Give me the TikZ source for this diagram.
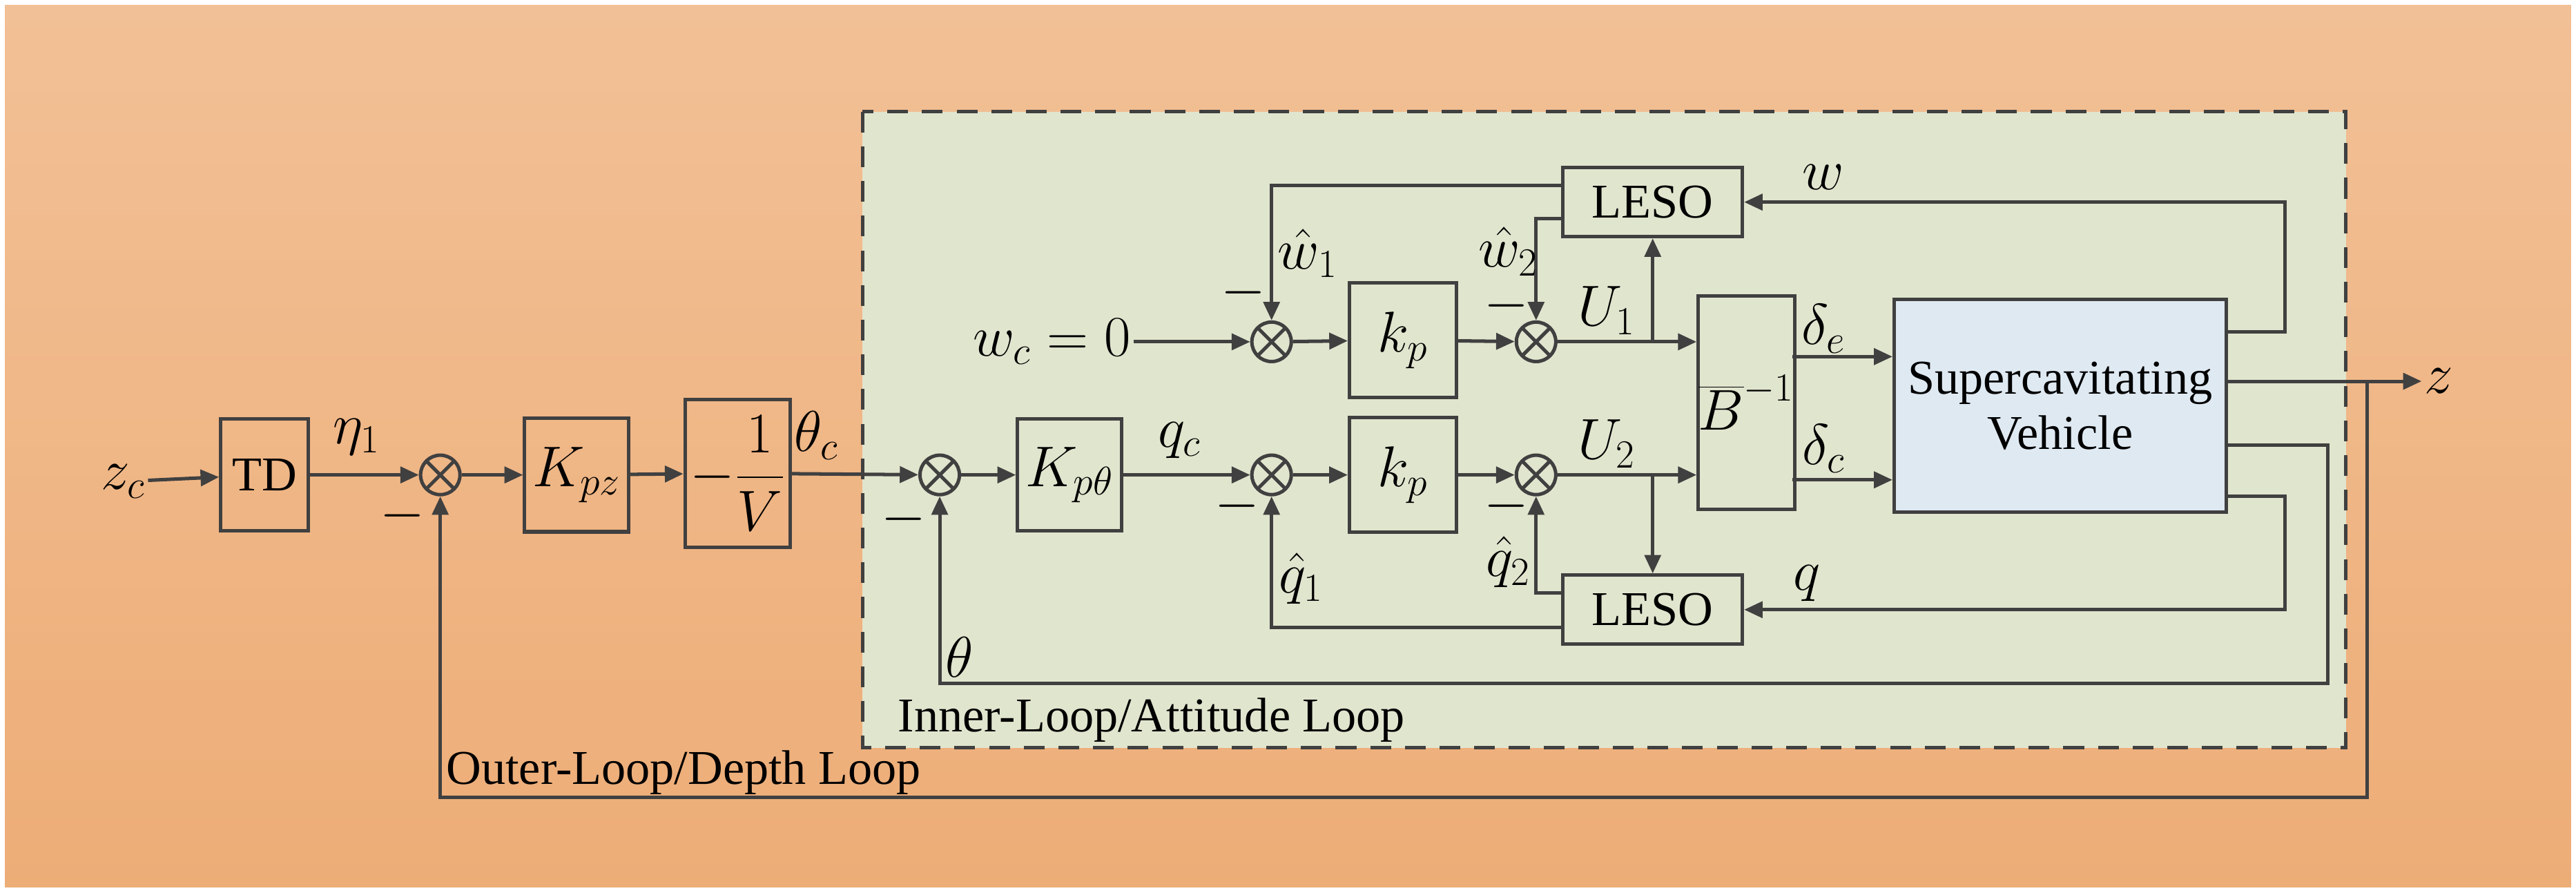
\documentclass[tikz,border=0pt]{standalone}
\usepackage{fontspec}
\setmainfont{Liberation Serif}
\usetikzlibrary{positioning,arrows.meta,calc}
\definecolor{linegray}{HTML}{404040}
\definecolor{innerfill}{HTML}{E0E5CE}
\definecolor{plantfill}{HTML}{DFE9F2}
\definecolor{bgtop}{HTML}{F2C096}
\definecolor{bgbot}{HTML}{EDAD77}
\tikzset{
    >={Triangle[length=8pt,width=7pt]},
    every node/.style={text=black}
}

\begin{document}
\begin{tikzpicture}[x=0.025cm, y=-0.025cm,
  blk/.style={draw=linegray, line width=1.5pt, font=\fontsize{21}{24}\selectfont, align=center, inner sep=0pt},
  sum/.style={circle, draw=linegray, line width=1.5pt, minimum size=0.6cm, inner sep=0pt,
    path picture={\draw[linegray, line width=1.5pt] (path picture bounding box.north west) -- (path picture bounding box.south east)
      (path picture bounding box.north east) -- (path picture bounding box.south west);}},
  line/.style={draw=linegray, line width=1.5pt},
  arr/.style={line, ->},
  lbl/.style={font=\fontsize{26}{30}\selectfont, inner sep=1pt},
  txt/.style={font=\fontsize{21}{24}\selectfont, inner sep=1pt}
]
  % background and inner loop frame
  \fill[white] (0,0) rectangle (1568,543);
  \shade[top color=bgtop, bottom color=bgbot] (3,3) rectangle (1565,540);
  \draw[draw=linegray, line width=1.5pt, dash pattern=on 9pt off 6pt, fill=innerfill] (525,68) rectangle (1428,455);

  % outer loop blocks
  \node[lbl] (zc) at (75,293) {$z_c$};
  \node[blk, minimum width=1.33cm, minimum height=1.7cm] (td) at (161,289) {TD};
  \node[sum] (s1) at (268,289) {};
  \node[blk, minimum width=1.58cm, minimum height=1.73cm, font=\fontsize{26}{30}\selectfont] (kpz) at (351,289) {$K_{pz}$};
  \node[blk, minimum width=1.6cm, minimum height=2.25cm, font=\fontsize{26}{30}\selectfont] (invv) at (449,288) {$\displaystyle -\frac{1}{V}$};
  \node[sum] (s2) at (572,289) {};

  % inner loop blocks
  \node[blk, minimum width=1.58cm, minimum height=1.7cm, font=\fontsize{26}{30}\selectfont] (kpt) at (651,289) {$K_{p\theta}$};
  \node[sum] (s3) at (774,289) {};
  \node[blk, minimum width=1.63cm, minimum height=1.75cm, font=\fontsize{26}{30}\selectfont] (kpb) at (854,289) {$k_p$};
  \node[sum] (s4) at (935,289) {};
  \node[lbl, anchor=east] (wc) at (690,208) {$w_c=0$};
  \node[sum] (s5) at (774,208) {};
  \node[blk, minimum width=1.63cm, minimum height=1.75cm, font=\fontsize{26}{30}\selectfont] (kpa) at (854,207) {$k_p$};
  \node[sum] (s6) at (935,208) {};
  \node[blk, minimum width=1.38cm, minimum height=3.25cm, font=\fontsize{26}{30}\selectfont] (binv) at (1063,245) {$\overline{B}^{-1}$};
  \node[blk, minimum width=2.73cm, minimum height=1.05cm] (lesoa) at (1006,123) {LESO};
  \node[blk, minimum width=2.73cm, minimum height=1.05cm] (lesob) at (1006,371) {LESO};
  \node[blk, fill=plantfill, minimum width=5.05cm, minimum height=3.23cm] (veh) at (1254,247) {Supercavitating\\Vehicle};
  \node[lbl, anchor=west] (z) at (1474,232) {$z$};

  % forward path
  \draw[arr] (zc) -- (td);
  \draw[arr] (td) -- (s1);
  \draw[arr] (s1) -- (kpz);
  \draw[arr] (kpz) -- (invv);
  \draw[arr] (invv) -- (s2);
  \draw[arr] (s2) -- (kpt);
  \draw[arr] (kpt) -- (s3);
  \draw[arr] (s3) -- (kpb);
  \draw[arr] (kpb) -- (s4);
  \draw[arr] (s4) -- (binv.west |- s4);
  \draw[arr] (wc) -- (s5);
  \draw[arr] (s5) -- (kpa);
  \draw[arr] (kpa) -- (s6);
  \draw[arr] (s6) -- (binv.west |- s6);
  \coordinate (de) at (1091,217);
  \coordinate (dc) at (1091,292);
  \draw[arr] (de) -- (veh.west |- de);
  \draw[arr] (dc) -- (veh.west |- dc);

  % observers
  \coordinate (u1b) at (lesoa.south |- s6);
  \coordinate (u2b) at (lesob.north |- s4);
  \draw[arr] (u1b) -- (lesoa.south);
  \draw[arr] (u2b) -- (lesob.north);
  \draw[arr] ($(lesoa.west)+(0,-10)$) -| (s5.north);
  \draw[arr] ($(lesoa.west)+(0,10)$) -| (s6.north);
  \draw[arr] ($(lesob.west)+(0,11)$) -| (s3.south);
  \draw[arr] ($(lesob.west)+(0,-10)$) -| (s4.south);

  % plant outputs and feedback
  \coordinate (wo) at (1355,202);
  \coordinate (zo) at (1355,232);
  \coordinate (tho) at (1355,271);
  \coordinate (qo) at (1355,302);
  \coordinate (zb) at (1441,232);
  \draw[arr] (wo) -- ++(36,0) |- (lesoa.east);
  \draw[arr] (qo) -- ++(36,0) |- (lesob.east);
  \draw[arr] (tho) -- ++(62,0) -- ++(0,145) -| (s2.south);
  \draw[arr] (zo) -- (z.west);
  \draw[arr] (zb) -- ++(0,253) -| (s1.south);

  % signal labels
  \node[lbl] at (217,266) {$\eta_1$};
  \node[lbl] at (497,265) {$\theta_c$};
  \node[lbl] at (718,268) {$q_c$};
  \node[lbl] at (796,154) {$\hat{w}_1$};
  \node[lbl] at (918,153) {$\hat{w}_2$};
  \node[lbl] at (978,189) {$U_1$};
  \node[lbl] at (978,270) {$U_2$};
  \node[lbl] at (792,352) {$\hat{q}_1$};
  \node[lbl] at (918,342) {$\hat{q}_2$};
  \node[lbl] at (1110,200) {$\delta_e$};
  \node[lbl] at (1110,273) {$\delta_c$};
  \node[lbl] at (1110,108) {$w$};
  \node[lbl] at (1100,355) {$q$};
  \node[lbl] at (584,400) {$\theta$};
  \node[lbl] at (245,314) {$-$};
  \node[lbl] at (550,316) {$-$};
  \node[lbl] at (753,308) {$-$};
  \node[lbl] at (917,308) {$-$};
  \node[lbl] at (757,178) {$-$};
  \node[lbl] at (917,186) {$-$};

  % loop names
  \node[txt, anchor=west] at (545,438) {Inner-Loop/Attitude Loop};
  \node[txt, anchor=west] at (270,470) {Outer-Loop/Depth Loop};
\end{tikzpicture}
\end{document}
